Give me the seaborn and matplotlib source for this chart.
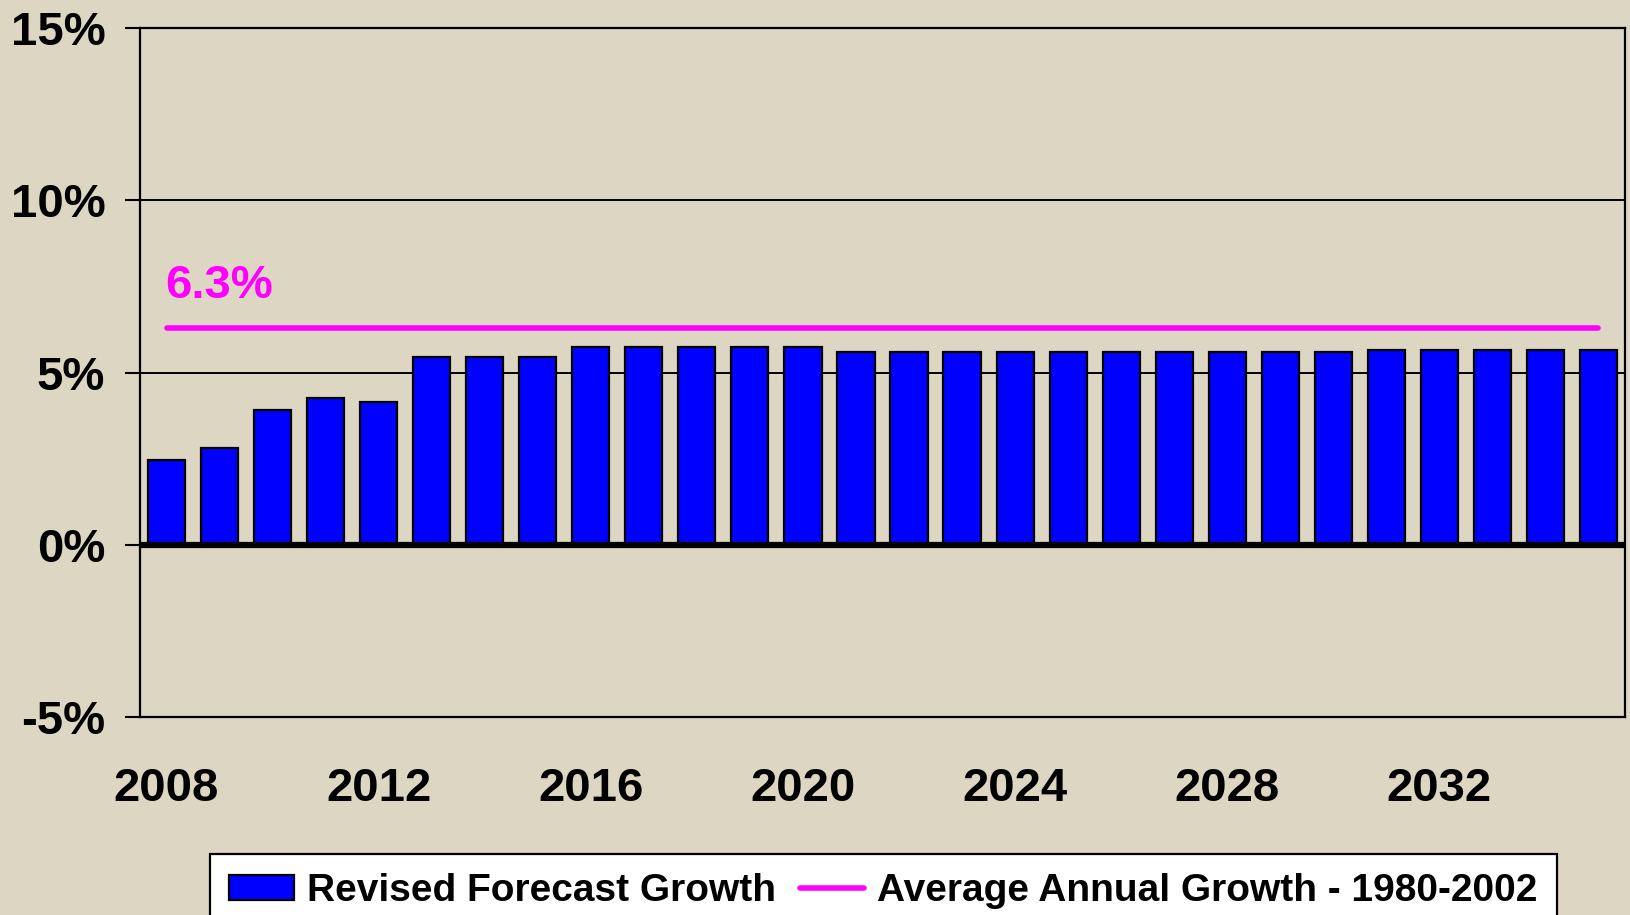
import matplotlib
matplotlib.use("Agg")
import matplotlib.pyplot as plt
import seaborn as sns
import pandas as pd
import numpy as np
from matplotlib.patches import Patch
from matplotlib.lines import Line2D

years = list(range(2008, 2036))
growth = [2.45, 2.8, 3.9, 4.25, 4.15, 5.45, 5.45, 5.45,
          5.75, 5.75, 5.75, 5.75, 5.75,
          5.6, 5.6, 5.6, 5.6, 5.6, 5.6, 5.6, 5.6, 5.6, 5.6,
          5.65, 5.65, 5.65, 5.65, 5.65]
avg_growth = 6.3
y_ticks = [-5, 0, 5, 10, 15]
bar_label = "Revised Forecast Growth"
line_label = "Average Annual Growth - 1980-2002"

BG = "#DDD6C3"
sns.set_theme(style="white")
plt.rcParams['font.family'] = ['Liberation Sans', 'DejaVu Sans']
plt.rcParams['font.weight'] = 'bold'
plt.rcParams['text.color'] = 'black'
plt.rcParams['xtick.color'] = 'black'
plt.rcParams['ytick.color'] = 'black'
plt.rcParams['xtick.labelcolor'] = 'black'
plt.rcParams['ytick.labelcolor'] = 'black'

fig = plt.figure(figsize=(16.3, 9.15), dpi=100, facecolor=BG)
ax = fig.add_axes([140/1630, 1-717/915, (1625-140)/1630, (717-28)/915])
ax.set_facecolor(BG)

df = pd.DataFrame({"year": [str(y) for y in years], "growth": growth})
sns.barplot(data=df, x="year", y="growth", color="#0000FF", saturation=1,
            width=0.7, edgecolor="black", linewidth=1.6, ax=ax, zorder=3)

# grid lines
for v in y_ticks[2:]:
    ax.axhline(v, color="black", linewidth=1.4, zorder=1)
ax.axhline(0, color="black", linewidth=4.5, zorder=4)

xs = np.arange(len(years))
ax.plot([xs[0], xs[-1]], [avg_growth, avg_growth], color="#FF00FF",
        linewidth=4, solid_capstyle="round", zorder=5)
ax.text(xs[0] - 0.02, avg_growth + 1.2, f"{avg_growth}%", color="#FF00FF",
        fontsize=34, fontweight="bold", ha="left", va="center")

ax.set_xlim(-0.5, len(years) - 0.5)
ax.set_ylim(-5, 15)
ax.set_yticks(y_ticks)
ax.set_yticklabels([f"{v}%" for v in y_ticks], fontsize=34, fontweight="bold", color="black")
tick_pos = xs[::4]
ax.set_xticks(tick_pos)
ax.set_xticklabels([str(years[i]) for i in tick_pos], fontsize=34, fontweight="bold", color="black")
ax.tick_params(axis="y", direction="out", length=11, width=1.5, color="black", pad=14, left=True)
ax.tick_params(axis="x", length=0, pad=36)
ax.set_xlabel("")
ax.set_ylabel("")
for s in ax.spines.values():
    s.set_visible(True)
    s.set_color("black")
    s.set_linewidth(1.6)

handles = [Patch(facecolor="#0000FF", edgecolor="black", linewidth=1.6),
           Line2D([0], [0], color="#FF00FF", linewidth=4, solid_capstyle="round")]
leg = fig.legend(handles, [bar_label, line_label], loc="upper left",
                 bbox_to_anchor=(210/1630, 1-854/915), ncol=2,
                 prop={"size": 28, "weight": "bold"}, frameon=True, fancybox=False,
                 framealpha=1, facecolor="white", edgecolor="black",
                 handlelength=1.65, handleheight=0.6, handletextpad=0.35,
                 columnspacing=0.6, borderpad=0.5, borderaxespad=0)
leg.get_frame().set_linewidth(1.6)
for t in leg.get_texts():
    t.set_color("black")

fig.savefig("out.png", dpi=100, facecolor=BG)
